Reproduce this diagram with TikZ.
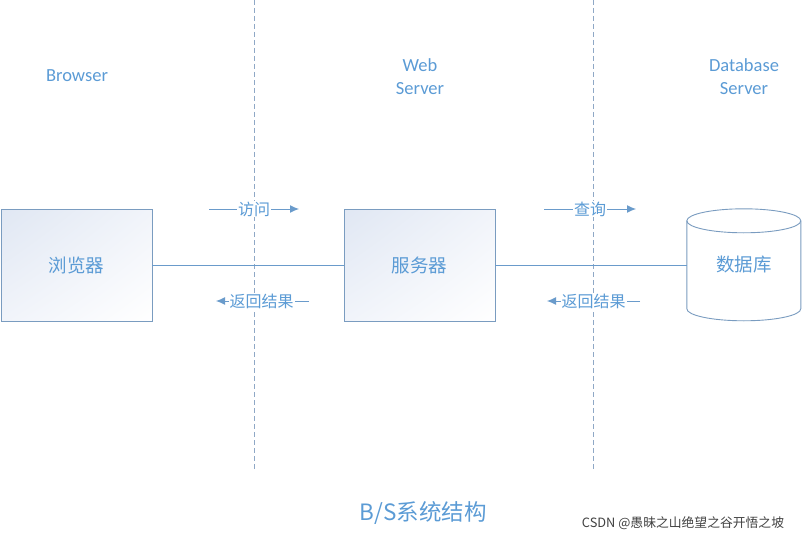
\documentclass[tikz,border=0pt]{standalone}
\usepackage{fontspec}
\setmainfont{Carlito}
\newfontfamily\cjk{Noto Sans CJK SC}
\usetikzlibrary{arrows.meta,shapes.geometric,shadings}
\definecolor{txtblue}{HTML}{5B9BD5}
\definecolor{lineblue}{HTML}{6A9BCB}
\definecolor{boxblue}{HTML}{7A9CC0}
\definecolor{dashblue}{HTML}{8FA8C6}
\definecolor{gradblue}{HTML}{E0E7F3}
\definecolor{gradmid}{HTML}{F1F4FA}
\tikzset{
  lbl/.style={text=txtblue,font=\fontsize{18.5}{23}\selectfont,align=center},
  sysbox/.style={draw=boxblue,line width=0.9pt,minimum width=151pt,minimum height=112pt,inner sep=0pt,
     upper left=gradblue,upper right=gradmid,lower left=gradmid,lower right=white,
     text=txtblue,font=\cjk\fontsize{18.5}{22}\selectfont},
  divider/.style={draw=dashblue,line width=1pt,dash pattern=on 5pt off 3pt},
  conn/.style={draw=lineblue,line width=1pt},
  flow/.style={draw=lineblue,line width=1pt,-{Latex[length=9pt,width=8pt]}},
  flowlbl/.style={fill=white,inner sep=1pt,text=txtblue,font=\cjk\fontsize{16}{18}\selectfont},
}
\begin{document}
\begin{tikzpicture}[x=1pt,y=-1pt]
\useasboundingbox (0,0) rectangle (802,540);
% dividers
\coordinate (d1t) at (254,0); \coordinate (d1b) at (254,470);
\coordinate (d2t) at (593,0); \coordinate (d2b) at (593,470);
\draw[divider] (d1t) -- (d1b);
\draw[divider] (d2t) -- (d2b);
% headings
\node[lbl] (hb) at (77,76) {Browser};
\node[lbl] (hw) at (420,76.5) {Web\\Server};
\node[lbl] (hd) at (744,76.5) {Database\\Server};
% boxes
\node[sysbox] (browser) at (76.5,265) {浏览器};
\node[sysbox] (server) at (419.5,265) {服务器};
% database cylinder
\node[minimum width=114pt,minimum height=112pt,inner sep=0pt] (db) at (744,265) {};
\draw[draw=boxblue,line width=0.9pt,fill=white]
  (db.north west) ++(0,12) coordinate (cyltl)
  (cyltl) -- ++(0,88) arc[start angle=180,end angle=360,x radius=57,y radius=-12]
  -- ++(0,-88) arc[start angle=0,end angle=180,x radius=57,y radius=-12] -- cycle;
\draw[draw=boxblue,line width=0.9pt]
  (cyltl) arc[start angle=180,end angle=360,x radius=57,y radius=-12];
\node[text=txtblue,font=\cjk\fontsize{18.5}{22}\selectfont] (dbt) at (db.center) {数据库};
% connectors
\draw[conn] (browser.east) -- (server.west);
\draw[conn] (server.east) -- (db.west);
% flows
\coordinate (f1a) at (209,209); \coordinate (f1b) at (299,209);
\draw[flow] (f1a) -- node[flowlbl,pos=0.5] {访问} (f1b);
\coordinate (f2a) at (309,301); \coordinate (f2b) at (216,301);
\draw[flow] (f2a) -- node[flowlbl,pos=0.51] {返回结果} (f2b);
\coordinate (f3a) at (544,209); \coordinate (f3b) at (636,209);
\draw[flow] (f3a) -- node[flowlbl,pos=0.5] {查询} (f3b);
\coordinate (f4a) at (640,301); \coordinate (f4b) at (547,301);
\draw[flow] (f4a) -- node[flowlbl,pos=0.5] {返回结果} (f4b);
% title
\node[text=txtblue,font=\cjk\fontsize{22.5}{26}\selectfont] (title) at (423,513) {B/S系统结构};
\node[text=black!75,font=\cjk\fontsize{12.8}{15}\selectfont] (wm) at (683,523) {CSDN @愚昧之山绝望之谷开悟之坡};
\end{tikzpicture}
\end{document}
